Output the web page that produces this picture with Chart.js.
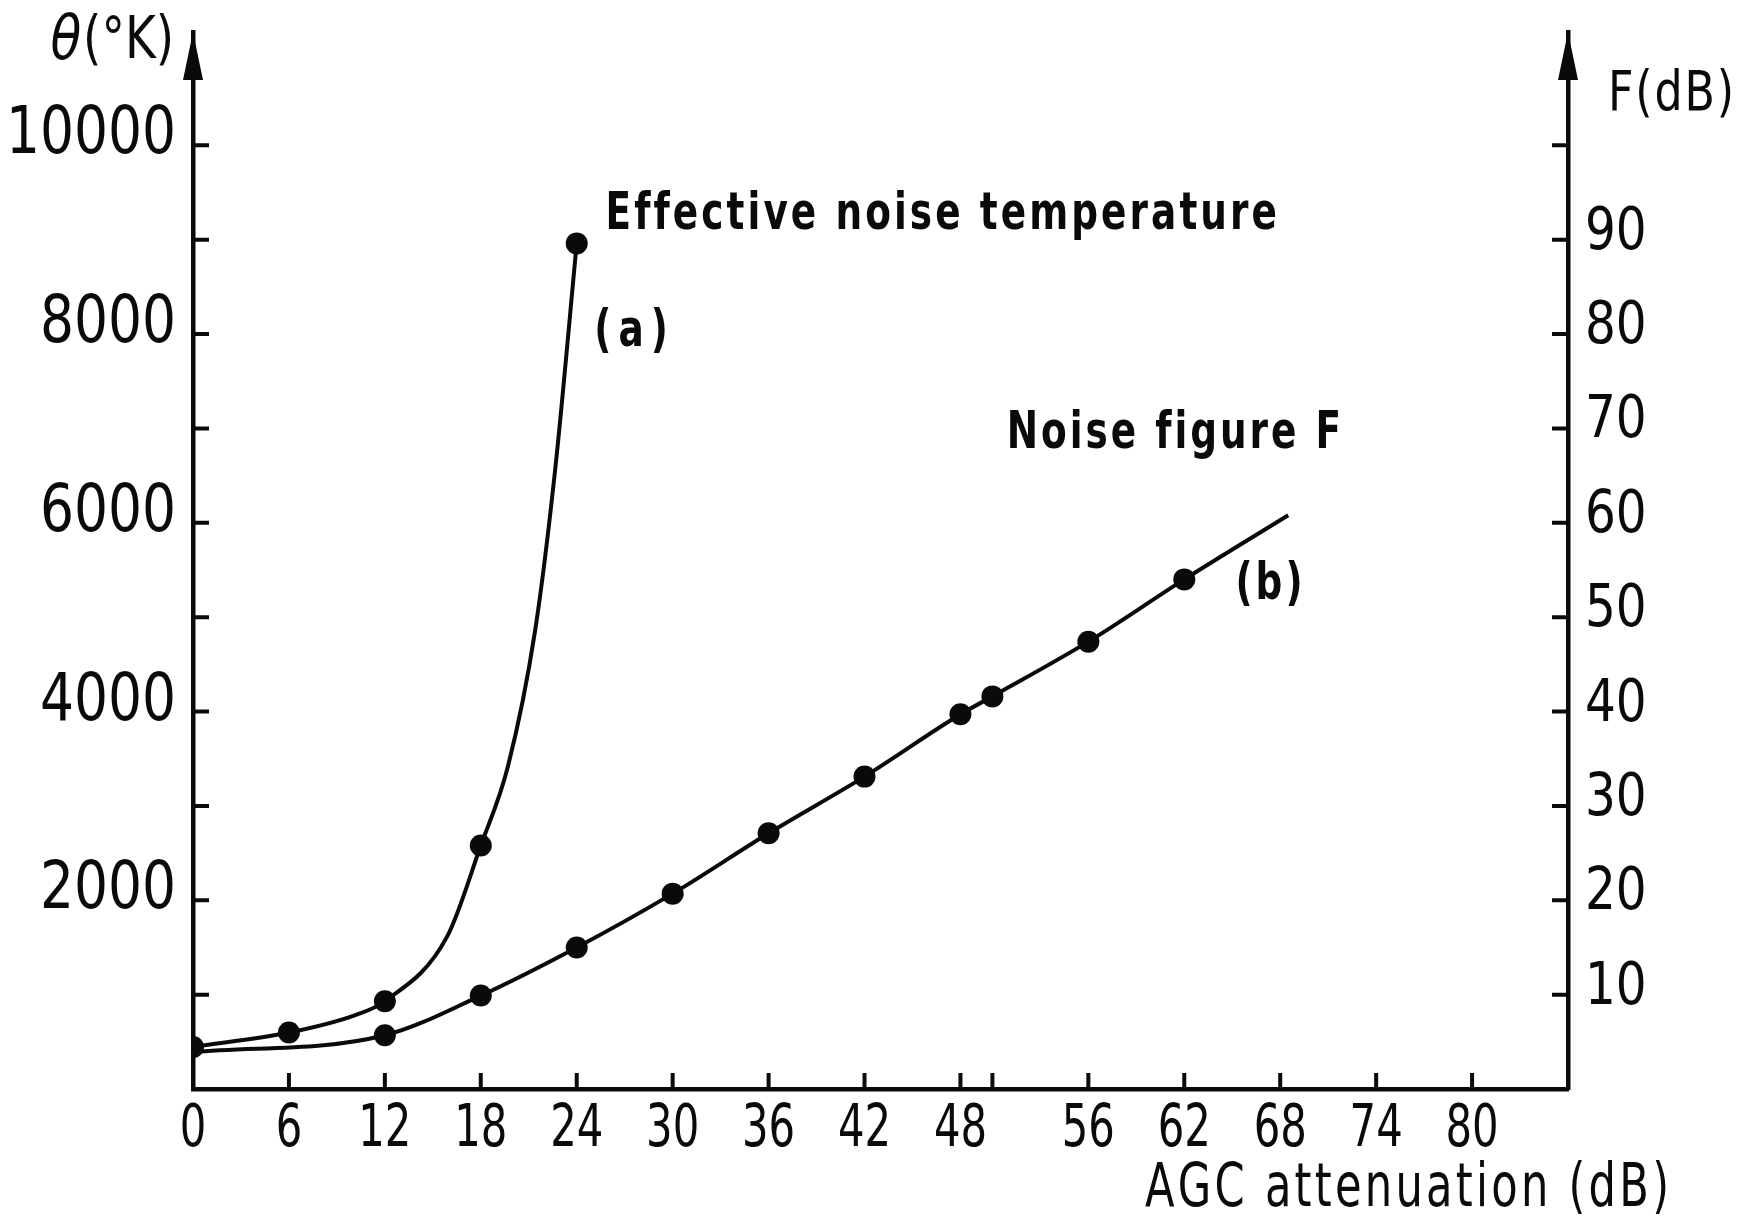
<!DOCTYPE html>
<html>
<head>
<meta charset="utf-8">
<script src="https://cdn.jsdelivr.net/npm/chart.js@4.4.1/dist/chart.umd.min.js"></script>
<style>
    html, body { margin: 0; padding: 0; background: #fff; }
    #wrap { width: 1760px; height: 1221px; }
</style>
</head>
<body>
<div id="wrap"><canvas id="noiseChart" width="1760" height="1221"></canvas></div>
<script>
// ---- data ----
// x: AGC attenuation (dB)
const attenTicks  = [0, 6, 12, 18, 24, 30, 36, 42, 48, 50, 56, 62, 68, 74, 80];
const attenLabels = ['0', '6', '12', '18', '24', '30', '36', '42', '48', '', '56', '62', '68', '74', '80'];

// left axis: effective noise temperature (K)
const tempTicks  = [1000, 2000, 3000, 4000, 5000, 6000, 7000, 8000, 9000, 10000];
const tempLabels = ['', '2000', '', '4000', '', '6000', '', '8000', '', '10000'];

// right axis: noise figure (dB)
const figTicks  = [10, 20, 30, 40, 50, 60, 70, 80, 90, 100];
const figLabels = ['10', '20', '30', '40', '50', '60', '70', '80', '90', ''];

const tempAtten  = [0, 6, 10.2, 12, 15.9, 18, 19.7, 21.4, 22.65, 24];
const tempValues = [446, 598, 786, 930, 1617, 2580, 3420, 4860, 6560, 8960];
const tempDots   = [1, 1, 0, 1, 0, 1, 0, 0, 0, 1];

// curve (b) - last point is where the drawn line stops (no dot)
const figAtten  = [0, 12, 18, 24, 30, 36, 42, 48, 50, 56, 62, 68.5];
const figValues = [3.9, 5.7, 9.9, 15.0, 20.7, 27.1, 33.1, 39.7, 41.6, 47.4, 54.0, 60.8];
const figDots   = [0, 1, 1, 1, 1, 1, 1, 1, 1, 1, 1, 0];

// annotations, placed in data units: [xStart, xEnd, y on temperature axis]
const notes = [
    { text: 'Effective noise temperature', x0: 25.8, x1: 67.8, y: 9257 },
    { text: '( a )', x0: 25.1, x1: 29.7, y: 8015 },
    { text: 'Noise figure F', x0: 50.9, x1: 71.8, y: 6937 },
    { text: '( b )', x0: 65.2, x1: 69.4, y: 5340 }
];

const INK = '#0a0a0a';
const COND = "'DejaVu Sans Condensed', 'DejaVu Sans', sans-serif";

function toXY(xs, ys) {
    return xs.map(function (x, i) { return { x: x, y: ys[i] }; });
}

// squeezed text, like the narrow stencil lettering of the original
function drawNarrow(ctx, text, x, y, squeeze, align) {
    const w = ctx.measureText(text).width * squeeze;
    const left = align === 'right' ? x - w : (align === 'center' ? x - w / 2 : x);
    ctx.save();
    ctx.translate(left, y);
    ctx.scale(squeeze, 1);
    ctx.textAlign = 'left';
    ctx.fillText(text, 0, 0);
    ctx.restore();
}

// spreads squeezed characters over a given pixel width
function drawSpaced(ctx, text, x, y, width, squeeze) {
    const chars = Array.from(text);
    const widths = chars.map(function (c) { return ctx.measureText(c).width * squeeze; });
    const natural = widths.reduce(function (s, w) { return s + w; }, 0);
    const gap = chars.length > 1 ? (width - natural) / (chars.length - 1) : 0;
    let cx = x;
    chars.forEach(function (c, i) {
        drawNarrow(ctx, c, cx, y, squeeze, 'left');
        cx += widths[i] + gap;
    });
}

const axisDecor = {
    id: 'axisDecor',
    afterDraw: function (chart) {
        const ctx = chart.ctx;
        const area = chart.chartArea;
        const xs = chart.scales.x, ys = chart.scales.y, fs = chart.scales.y1;
        const tick = 16;

        ctx.save();
        ctx.strokeStyle = INK;
        ctx.fillStyle = INK;
        ctx.lineWidth = 4;
        ctx.lineCap = 'butt';

        // inward tick marks
        ctx.beginPath();
        tempTicks.forEach(function (v) {
            const py = ys.getPixelForValue(v);
            ctx.moveTo(area.left, py); ctx.lineTo(area.left + tick, py);
        });
        figTicks.forEach(function (v) {
            const py = fs.getPixelForValue(v);
            ctx.moveTo(area.right, py); ctx.lineTo(area.right - tick, py);
        });
        attenTicks.forEach(function (v) {
            if (v === 0) return;
            const px = xs.getPixelForValue(v);
            ctx.moveTo(px, area.bottom); ctx.lineTo(px, area.bottom - tick);
        });
        ctx.stroke();

        // arrow heads on both vertical axes
        [area.left, area.right].forEach(function (ax) {
            ctx.beginPath();
            ctx.moveTo(ax, area.top);
            ctx.lineTo(ax - 10, area.top + 48);
            ctx.lineTo(ax + 10, area.top + 48);
            ctx.closePath();
            ctx.fill();
        });

        // tick labels
        ctx.textBaseline = 'middle';
        ctx.font = '66px ' + COND;
        tempTicks.forEach(function (v, i) {
            drawNarrow(ctx, tempLabels[i], area.left - 17, ys.getPixelForValue(v) - 9, 0.9, 'right');
        });
        ctx.font = '58px ' + COND;
        figTicks.forEach(function (v, i) {
            drawNarrow(ctx, figLabels[i], area.right + 17, fs.getPixelForValue(v) - 6, 0.93, 'left');
        });
        ctx.font = '58px ' + COND;
        attenTicks.forEach(function (v, i) {
            drawNarrow(ctx, attenLabels[i], xs.getPixelForValue(v), area.bottom + 42, 0.8, 'center');
        });

        // axis titles
        ctx.font = '58px ' + COND;
        const rest = '(°K)';
        const restW = ctx.measureText(rest).width * 0.9;
        drawNarrow(ctx, rest, area.left - 19, area.top + 11, 0.9, 'right');
        ctx.font = 'italic 62px ' + COND;
        drawNarrow(ctx, 'θ', area.left - 21 - restW, area.top + 11, 0.9, 'right');

        ctx.font = '56px ' + COND;
        drawSpaced(ctx, 'F(dB)', area.right + 40, area.top + 63, 126, 0.88);

        ctx.font = '60px ' + COND;
        drawSpaced(ctx, 'AGC attenuation (dB)', area.right - 423, area.bottom + 101, 524, 0.8);

        // curve annotations
        ctx.font = 'bold 52px ' + COND;
        notes.forEach(function (n) {
            const x0 = xs.getPixelForValue(n.x0);
            const x1 = xs.getPixelForValue(n.x1);
            drawSpaced(ctx, n.text, x0, ys.getPixelForValue(n.y), x1 - x0, 0.8);
        });
        ctx.restore();
    }
};

function fixedTicks(values) {
    return function (scale) {
        scale.ticks = values.map(function (v) { return { value: v }; });
    };
}

function curveStyle(dots) {
    return {
        borderColor: INK,
        borderWidth: 4,
        backgroundColor: INK,
        pointRadius: dots.map(function (d) { return d ? 11 : 0; }),
        pointBorderWidth: 0,
        cubicInterpolationMode: 'monotone',
        fill: false
    };
}

new Chart(document.getElementById('noiseChart'), {
    type: 'line',
    data: {
        datasets: [
            Object.assign({ label: 'Effective noise temperature', data: toXY(tempAtten, tempValues), yAxisID: 'y' }, curveStyle(tempDots)),
            Object.assign({ label: 'Noise figure F', data: toXY(figAtten, figValues), yAxisID: 'y1' }, curveStyle(figDots))
        ]
    },
    options: {
        responsive: false,
        animation: false,
        devicePixelRatio: 1,
        layout: { padding: { top: 32, left: 0, right: 0, bottom: 0 } },
        plugins: { legend: { display: false }, tooltip: { enabled: false } },
        scales: {
            x: {
                type: 'linear',
                min: 0,
                max: 86,
                afterBuildTicks: fixedTicks(attenTicks),
                afterFit: function (s) { s.height = 132; s.paddingLeft = 0; s.paddingRight = 0; },
                grid: { display: false, drawTicks: false },
                border: { display: true, color: INK, width: 4.5 },
                ticks: { display: false }
            },
            y: {
                type: 'linear',
                position: 'left',
                min: 0,
                max: 11200,
                afterBuildTicks: fixedTicks(tempTicks),
                afterFit: function (s) { s.width = 193; s.paddingTop = 0; s.paddingBottom = 0; },
                grid: { display: false, drawTicks: false },
                border: { display: true, color: INK, width: 4.5 },
                ticks: { display: false }
            },
            y1: {
                type: 'linear',
                position: 'right',
                min: 0,
                max: 112,
                afterBuildTicks: fixedTicks(figTicks),
                afterFit: function (s) { s.width = 192; s.paddingTop = 0; s.paddingBottom = 0; },
                grid: { display: false, drawTicks: false },
                border: { display: true, color: INK, width: 4.5 },
                ticks: { display: false }
            }
        }
    },
    plugins: [axisDecor]
});
</script>
</body>
</html>
